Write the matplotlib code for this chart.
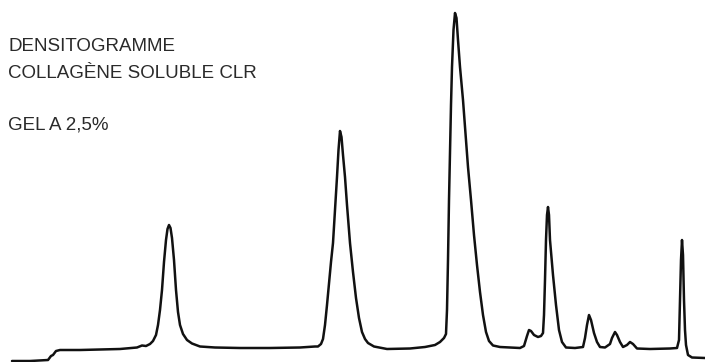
import matplotlib
matplotlib.use('Agg')
from matplotlib import pyplot as plt

# densitogramme : x = distance de migration, y = densité (unités arbitraires)
migration=[12,30,48,51,53,56,60,80,100,120,137,142,146,150,153,156,158,160,162,164,166,167.5,169,170.5,172,174,176,178,180,183,187,192,200,215,240,270,300,
           315,318,321,323,325,327,329,331,333,335,337,338.5,340,341.5,343,345,347,350,353,356,359,362,365,368,374,387,410,425,435,440,444,
           446,447,448,449,450,451,452,453.5,455,456.5,458,460,463,466,468,471,474,477,480,483,486,489,493,500,520,
           524,527,529,531,534,538,541,543,544,545,546,547,548,549,550,553,556,559,562,566,575,
           583,585,587,589,591,594,597,600,605,610,612,615,617,620,623,627,630,633,637,650,670,
           677,679,680,681,682,683,684,685,686,688,692,705]
densite_pix=[361,361,360,356,355,351,350,350,349.5,349,347.5,345.5,346,344,341,335,325,310,290,262,240,229,225,228,238,260,290,312,325,334,340,343.5,346.5,347.5,348,348,347.5,
             346.5,346.5,344,339,325,305,283,262,243,210,177,150,131,137,155,177,205,243,272,298,318,332,339,343,346.5,349,348.5,347,345,342,338,
             334,310,260,200,150,105,67,30,13,18,40,67,100,140,167,200,235,265,292,315,332,341,345.5,347,348,
             346,336,330,331,335,337,336,333,315,280,240,215,207,215,240,275,305,330,342,347.5,348,
             347,338,325,315,320,333,342,347,347.5,344,338,332,335,342,347,345,342,344,348.5,349,348.5,
             348,340,300,260,240,255,300,330,345,355,357.5,358]
densite=[362-v for v in densite_pix]

titre=['DENSITOGRAMME','COLLAGÈNE SOLUBLE CLR','GEL A 2,5%']
titre_y=[311,284,232]   # lignes de base du texte

fig=plt.figure(figsize=(7.05,3.62),dpi=100)
ax=fig.add_axes([0,0,1,1])
ax.plot(migration,densite,color='#111111',lw=1.8,solid_joinstyle='round',solid_capstyle='round')

for t,y in zip(titre,titre_y):
    ax.text(8,y,t,fontsize=13.5,family='Liberation Sans',color='#2a2a2a',va='baseline',ha='left')

ax.set_xlim(0,705)
ax.set_ylim(0,362)
ax.axis('off')

plt.savefig('out.png',dpi=100)
